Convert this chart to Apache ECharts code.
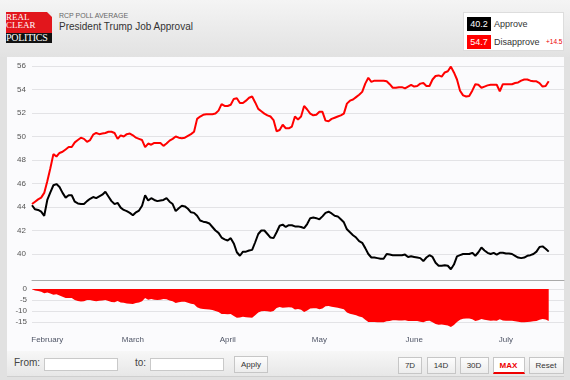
<!DOCTYPE html>
<html>
<head>
<meta charset="utf-8">
<script src="https://cdn.jsdelivr.net/npm/echarts@6/dist/echarts.min.js"></script>
<style>
  html, body { margin:0; padding:0; }
  body { width:570px; height:380px; overflow:hidden; position:relative; background:#e1e1e1;
         font-family:"Liberation Sans", Arial, sans-serif; }
  .abs { position:absolute; }
  #header { left:0; top:0; width:570px; height:57px; background:linear-gradient(#f4f4f4,#e2e2e2); }
  #logo-red { left:6px; top:12px; width:46px; height:21px; background:#e2161c; }
  #logo-fold { left:47px; top:12px; width:0; height:0; border-left:5px solid transparent; border-top:5px solid #ececec; }
  #logo-blk { left:6px; top:33px; width:46px; height:10px; background:#111; }
  .logo-t { color:#fff; font-family:"Liberation Serif","DejaVu Serif",serif; white-space:nowrap; }
  #sub { left:59px; top:12px; font-size:7px; color:#666; white-space:nowrap; }
  #title { left:59px; top:21px; font-size:10px; color:#333; white-space:nowrap; }
  #legend { left:463px; top:12px; width:101px; height:39px; background:#fff; border:1px solid #ddd; box-sizing:border-box; }
  .lbox { width:24px; height:14px; color:#fff; font-size:9px; line-height:14px; text-align:center; }
  .ltxt { font-size:9px; color:#333; white-space:nowrap; line-height:12px; }
  #panel { left:7px; top:57px; width:557px; height:294px; background:#fbfbfd; }
  #bar { left:7px; top:351px; width:557px; height:26px; background:linear-gradient(#f7f7f7,#e7e7e7); border-bottom:1px solid #cfcfcf; box-sizing:border-box; }
  .ctl { font-size:10px; color:#444; line-height:12px; white-space:nowrap; }
  .inp { height:12.5px; background:#fff; border:1px solid #c9c9c9; box-sizing:border-box; }
  .btn { height:17px; border:1px solid #c6c6c6; box-sizing:border-box; background:linear-gradient(#fdfdfd,#ececec);
         font-size:8px; color:#333; text-align:center; line-height:15px; }
  #chart { left:0; top:0; width:570px; height:380px; }
</style>
</head>
<body>
<div id="header" class="abs"></div>
<div id="logo-red" class="abs"></div>
<div id="logo-fold" class="abs"></div>
<div id="logo-blk" class="abs"></div>
<div class="abs logo-t" style="left:6px;top:13px;font-size:9px;line-height:8px;">REAL</div>
<div class="abs logo-t" style="left:6px;top:21px;font-size:9px;line-height:8px;">CLEAR</div>
<div class="abs logo-t" style="left:6px;top:33px;font-size:10px;line-height:10px;letter-spacing:-0.3px;">POLITICS</div>
<div id="sub" class="abs">RCP POLL AVERAGE</div>
<div id="title" class="abs">President Trump Job Approval</div>
<div id="legend" class="abs"></div>
<div class="abs lbox" style="left:467px;top:17px;background:#000;">40.2</div>
<div class="abs ltxt" style="left:494px;top:18px;">Approve</div>
<div class="abs lbox" style="left:467px;top:34.5px;background:#ff0000;">54.7</div>
<div class="abs ltxt" style="left:494px;top:35.5px;">Disapprove</div>
<div class="abs" style="left:546px;top:38px;font-size:6.5px;color:#e00;white-space:nowrap;">+14.5</div>

<div id="panel" class="abs"></div>
<div id="bar" class="abs"></div>
<div class="abs ctl" style="left:14px;top:357px;">From:</div>
<div class="abs inp" style="left:44px;top:358px;width:74px;"></div>
<div class="abs ctl" style="left:135px;top:357px;">to:</div>
<div class="abs inp" style="left:150px;top:358px;width:74px;"></div>
<div class="abs btn" style="left:234px;top:356px;width:34px;">Apply</div>
<div class="abs btn" style="left:398px;top:356.5px;width:24px;">7D</div>
<div class="abs btn" style="left:426.5px;top:356.5px;width:29px;">14D</div>
<div class="abs btn" style="left:459.5px;top:356.5px;width:29px;">30D</div>
<div class="abs btn" style="left:492.5px;top:356.5px;width:32px;background:#fff;color:#e00;font-weight:bold;border-bottom:2px solid #e00;">MAX</div>
<div class="abs btn" style="left:528.5px;top:356.5px;width:35px;">Reset</div>

<div id="chart" class="abs"></div>
<script>
// ---- data (daily RCP averages, 27 Jan 2017 onward) ----
const startDay = [2017, 0, 27];
const axisEndDay = [2017, 6, 20];
const monthNames = ['January','February','March','April','May','June','July','August','September','October','November','December'];
const approveValues = [
  44.15,43.8,43.75,43.6,43.25,44.6,45.25,45.85,45.95,45.7,
  45.2,44.8,45.0,45.0,44.45,44.3,44.25,44.25,44.5,44.7,
  44.85,44.75,44.9,45.05,45.3,44.9,44.5,44.25,44.35,43.95,
  43.75,43.65,43.5,43.3,43.55,43.7,44.1,45.0,44.55,44.75,
  44.6,44.5,44.55,44.6,44.75,44.45,44.25,43.65,43.9,44.1,
  44.05,43.85,43.55,43.5,43.25,42.85,42.75,42.7,42.6,42.3,
  42.0,41.8,41.4,41.25,41.15,41.35,40.9,40.15,39.85,40.2,
  40.2,40.3,40.35,41.0,41.7,42.0,42.0,41.7,41.4,41.35,
  41.85,42.4,42.5,42.3,42.45,42.45,42.35,42.35,42.3,42.2,
  42.55,43.05,43.1,43.05,42.95,43.2,43.5,43.6,43.45,43.25,
  43.2,42.95,42.7,42.1,41.85,41.6,41.4,41.1,40.95,40.5,
  40.0,39.7,39.7,39.65,39.6,39.6,40.0,39.95,39.9,39.9,
  39.9,39.9,39.95,39.75,39.8,39.75,39.7,39.65,39.4,39.7,
  39.9,39.75,39.25,39.0,39.0,39.05,39.0,38.7,39.1,39.8,
  39.9,40.0,40.0,40.0,40.1,39.85,40.15,40.55,40.3,40.1,
  40.0,40.1,39.95,40.1,40.1,40.05,40.05,40.0,39.85,39.7,
  39.65,39.7,39.85,39.9,40.0,40.2,40.6,40.65,40.45,40.2
];
const disapproveValues = [
  44.25,44.45,44.65,44.8,45.2,46.2,47.3,48.5,48.3,48.6,
  48.7,48.9,49.1,49.1,49.5,49.7,49.9,49.8,49.55,49.7,
  50.15,50.3,50.2,50.25,50.3,50.4,50.4,50.3,49.8,50.1,
  50.0,50.2,50.25,50.1,49.9,49.8,49.7,49.1,49.4,49.3,
  49.45,49.45,49.45,49.2,49.4,49.65,49.8,50.0,49.9,49.85,
  49.9,50.05,50.2,50.4,51.5,51.7,51.85,51.9,51.9,51.9,
  51.95,52.2,52.75,52.6,52.6,52.7,53.2,53.25,52.85,52.85,
  53.05,53.3,53.4,52.9,52.35,52.15,51.95,51.8,51.7,51.4,
  50.45,50.55,51.0,50.7,50.7,50.85,51.7,51.45,51.7,52.6,
  52.3,51.95,51.8,51.85,52.1,52.1,51.35,51.3,51.5,51.6,
  51.7,51.8,51.95,52.8,53.05,53.15,53.35,53.55,53.8,54.5,
  55.0,54.65,54.75,54.75,54.75,54.75,54.7,54.45,54.15,54.15,
  54.2,54.2,54.1,54.25,54.4,54.25,54.3,54.5,54.55,54.3,
  54.3,54.85,55.15,55.2,55.1,55.45,55.55,55.95,55.45,54.85,
  53.9,53.5,53.4,53.45,53.9,54.45,54.4,54.15,54.25,54.35,
  54.4,54.4,54.4,53.85,54.45,54.45,54.45,54.45,54.55,54.6,
  54.75,54.85,54.85,54.75,54.7,54.7,54.55,54.25,54.3,54.7
];
const upperAxis = { min: 38, max: 56, interval: 2 };
const lowerAxis = { min: -20, max: 0, interval: 5 };

// ---- build series ----
const dayMs = [];
for (let i = 0; i < approveValues.length; i++) {
  dayMs.push(new Date(startDay[0], startDay[1], startDay[2] + i).getTime());
}
const approveData = dayMs.map((t, i) => [t, approveValues[i]]);
const disapproveData = dayMs.map((t, i) => [t, disapproveValues[i]]);
const spreadData = dayMs.map((t, i) => [t, +(approveValues[i] - disapproveValues[i]).toFixed(2)]);
const xMin = dayMs[0];
const xMax = new Date(axisEndDay[0], axisEndDay[1], axisEndDay[2]).getTime();

const font = '"Liberation Sans", Arial, sans-serif';
const chart = echarts.init(document.getElementById('chart'), null, { renderer: 'canvas' });
chart.setOption({
  animation: false,
  backgroundColor: 'transparent',
  grid: [
    { left: 32, right: 6, top: 66, height: 211.5 },
    { left: 32, right: 6, top: 289, height: 44 }
  ],
  xAxis: [
    { type: 'time', gridIndex: 0, min: xMin, max: xMax,
      axisLine: { show: true, onZero: false, lineStyle: { color: '#a9a9a9', width: 1 } }, offset: 2.5,
      axisTick: { show: false }, axisLabel: { show: false }, splitLine: { show: false } },
    { type: 'time', gridIndex: 1, min: xMin, max: xMax,
      minInterval: 28 * 86400000, maxInterval: 31 * 86400000,
      axisLine: { show: false }, axisTick: { show: false }, splitLine: { show: false },
      axisLabel: { show: true, fontSize: 8, color: '#4f5566', fontFamily: font, margin: 3,
        showMinLabel: false, showMaxLabel: false, hideOverlap: false,
        formatter: function (v) { const d = new Date(v); return d.getDate() === 1 ? monthNames[d.getMonth()] : ''; } } }
  ],
  yAxis: [
    { type: 'value', gridIndex: 0, min: upperAxis.min, max: upperAxis.max, interval: upperAxis.interval,
      axisLine: { show: false }, axisTick: { show: false },
      axisLabel: { fontSize: 8, color: '#555', fontFamily: font, margin: 6, showMinLabel: false },
      splitLine: { show: true, showMinLine: false, lineStyle: { color: '#e3e3e6', width: 1 } } },
    { type: 'value', gridIndex: 1, min: lowerAxis.min, max: lowerAxis.max, interval: lowerAxis.interval,
      axisLine: { show: false }, axisTick: { show: false },
      axisLabel: { fontSize: 8, color: '#555', fontFamily: font, margin: 5, showMinLabel: false },
      splitLine: { show: true, showMinLine: false, lineStyle: { color: '#e3e3e6', width: 1 } } }
  ],
  series: [
    { name: 'Spread', type: 'line', xAxisIndex: 1, yAxisIndex: 1, data: spreadData,
      showSymbol: false, lineStyle: { width: 0 }, itemStyle: { color: '#ff0000' },
      areaStyle: { color: '#ff0000', opacity: 1 } },
    { name: 'Approve', type: 'line', xAxisIndex: 0, yAxisIndex: 0, data: approveData,
      showSymbol: false, lineStyle: { color: '#000000', width: 2 }, itemStyle: { color: '#000000' } },
    { name: 'Disapprove', type: 'line', xAxisIndex: 0, yAxisIndex: 0, data: disapproveData,
      showSymbol: false, lineStyle: { color: '#ff0000', width: 2 }, itemStyle: { color: '#ff0000' } }
  ]
});
</script>
</body>
</html>
